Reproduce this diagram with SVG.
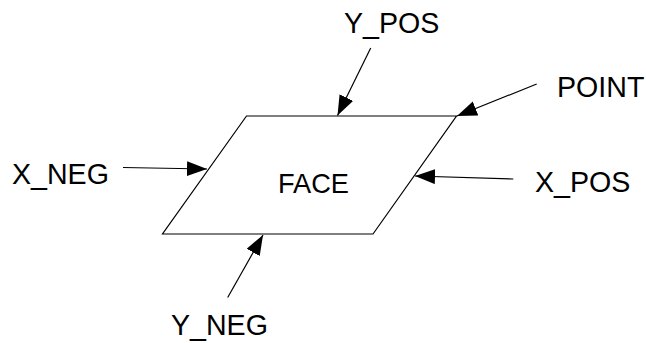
<svg xmlns="http://www.w3.org/2000/svg" width="646" height="343" viewBox="0 0 646 343">
<style>
text{font-family:"Liberation Sans",Arial,sans-serif;fill:#000}
.lbl{font-size:28.6px}
.face{font-size:27.2px}
.c{stroke:#000;stroke-width:1.2;fill:none;marker-end:url(#ah)}
</style>
<defs>
<marker id="ah" markerUnits="userSpaceOnUse" markerWidth="21" markerHeight="16" viewBox="0 0 21 16" refX="20" refY="7.5" orient="auto">
<path d="M0,0 L20,7.5 L0,15 z" fill="#000"/>
</marker>
</defs>
<g id="face">
<polygon points="246.5,116 456.5,116 373,234 162.5,234" fill="#fff" stroke="#000" stroke-width="1.2"/>
<text class="face" x="278" y="192.5">FACE</text>
</g>
<g id="connectors">
<line class="c" x1="370.7" y1="48" x2="337.5" y2="115.5"/>
<line class="c" x1="536.7" y1="84" x2="457" y2="116"/>
<line class="c" x1="123" y1="167.5" x2="207" y2="169"/>
<line class="c" x1="513.3" y1="179" x2="415" y2="176"/>
<line class="c" x1="227.7" y1="297.5" x2="263" y2="235"/>
</g>
<g id="y_pos"><text class="lbl" x="344" y="33">Y_POS</text></g>
<g id="point"><text class="lbl" x="557" y="96.5">POINT</text></g>
<g id="x_neg"><text class="lbl" x="12" y="184">X_NEG</text></g>
<g id="x_pos"><text class="lbl" x="535" y="192">X_POS</text></g>
<g id="y_neg"><text class="lbl" x="171" y="335">Y_NEG</text></g>
</svg>
